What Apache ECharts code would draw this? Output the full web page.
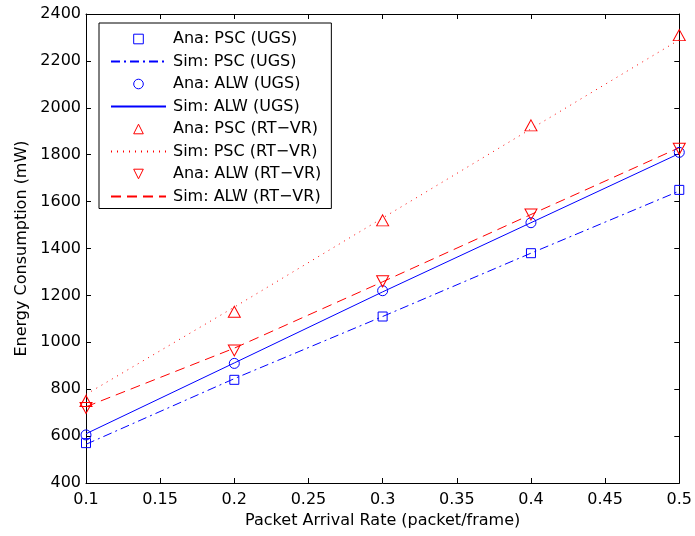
<!DOCTYPE html>
<html>
<head>
<meta charset="utf-8">
<script src="https://cdn.jsdelivr.net/npm/echarts@6/dist/echarts.min.js"></script>
<style>
  html, body { margin: 0; padding: 0; background: #fff; }
  #main { width: 695px; height: 536px; }
</style>
</head>
<body>
<div id="main"></div>
<script>
var myChart = echarts.init(document.getElementById('main'));

// packet arrival rates (x)
var rates = [0.1, 0.2, 0.3, 0.4, 0.5];
// energy consumption in mW
var anaPscUgs = [570, 840, 1110, 1380, 1650];
var simPscUgs = [565, 845, 1110, 1380, 1645];
var anaAlwUgs = [605, 910, 1220, 1510, 1810];
var simAlwUgs = [610, 912, 1215, 1510, 1805];
var anaPscRt = [750, 1130, 1520, 1925, 2310];
var simPscRt = [778, 1150, 1530, 1910, 2290];
var anaAlwRt = [720, 965, 1260, 1545, 1825];
var simAlwRt = [725, 975, 1258, 1545, 1830];

var BLUE = '#0000ff', RED = '#ff0000';
var FONT = 'DejaVu Sans';

function pairs(ys) {
    return rates.map(function (x, i) { return [x, ys[i]]; });
}

// marker-only series (analysis)
function markers(name, ys, color, symbol, size) {
    return {
        name: name,
        type: 'line',
        data: pairs(ys),
        symbol: symbol,
        symbolSize: size,
        showSymbol: true,
        lineStyle: { opacity: 0, width: 0 },
        itemStyle: { color: 'rgba(0,0,0,0)', borderColor: color, borderWidth: 1 },
        emphasis: { disabled: true },
        z: 3
    };
}

// line-only series (simulation)
function curve(name, ys, color, dash) {
    return {
        name: name,
        type: 'line',
        data: pairs(ys),
        symbol: 'none',
        lineStyle: { color: color, width: 1, type: dash },
        itemStyle: { color: color, opacity: 0 },
        emphasis: { disabled: true },
        z: 2
    };
}

var downTri = 'path://M0,0L10,0L5,9Z';

var option = {
    backgroundColor: '#fff',
    animation: false,
    textStyle: { fontFamily: FONT },
    grid: { left: 86, right: 13, top: 14, bottom: 53 },
    legend: {
        orient: 'vertical',
        left: 99,
        top: 23,
        padding: [8, 10, 4, 11],
        itemWidth: 55,
        itemHeight: 12,
        itemGap: 6.5,
        borderColor: '#000',
        borderWidth: 1,
        backgroundColor: '#fff',
        itemStyle: { borderWidth: 1 },
        textStyle: { fontFamily: FONT, fontSize: 16, lineHeight: 14, color: '#000', padding: [0, 0, 0, 2] },
        selectedMode: false
    },
    xAxis: [{
        type: 'value',
        min: 0.1, max: 0.5, interval: 0.05,
        name: 'Packet Arrival Rate (packet/frame)',
        nameLocation: 'middle',
        nameGap: 30,
        nameTextStyle: { fontFamily: FONT, fontSize: 16, color: '#000' },
        axisLine: { lineStyle: { color: '#000', width: 1 } },
        axisTick: { inside: true, length: 5, lineStyle: { color: '#000' } },
        axisLabel: { fontFamily: FONT, fontSize: 16, color: '#000', margin: 9 },
        splitLine: { show: false }
    }, {
        type: 'value', position: 'top',
        min: 0.1, max: 0.5, interval: 0.05,
        axisLine: { lineStyle: { color: '#000', width: 1 } },
        axisTick: { inside: true, length: 5, lineStyle: { color: '#000' } },
        axisLabel: { show: false },
        splitLine: { show: false }
    }],
    yAxis: [{
        type: 'value',
        min: 400, max: 2400, interval: 200,
        name: 'Energy Consumption (mW)',
        nameLocation: 'middle',
        nameGap: 54,
        nameTextStyle: { fontFamily: FONT, fontSize: 16, color: '#000' },
        axisLine: { show: true, lineStyle: { color: '#000', width: 1 } },
        axisTick: { show: true, inside: true, length: 5, lineStyle: { color: '#000' } },
        axisLabel: { fontFamily: FONT, fontSize: 16, color: '#000', margin: 5,
            formatter: function (v) { return String(v); } },
        splitLine: { show: false }
    }, {
        type: 'value', position: 'right',
        min: 400, max: 2400, interval: 200,
        axisLine: { show: true, lineStyle: { color: '#000', width: 1 } },
        axisTick: { show: true, inside: true, length: 5, lineStyle: { color: '#000' } },
        axisLabel: { show: false },
        splitLine: { show: false }
    }],
    series: [
        markers('Ana: PSC (UGS)', anaPscUgs, BLUE, 'rect', 9),
        curve('Sim: PSC (UGS)', simPscUgs, BLUE, [9, 4, 2, 4]),
        markers('Ana: ALW (UGS)', anaAlwUgs, BLUE, 'circle', 10),
        curve('Sim: ALW (UGS)', simAlwUgs, BLUE, 'solid'),
        markers('Ana: PSC (RT\u2212VR)', anaPscRt, RED, 'triangle', [12, 11]),
        curve('Sim: PSC (RT\u2212VR)', simPscRt, RED, [1, 5]),
        markers('Ana: ALW (RT\u2212VR)', anaAlwRt, RED, downTri, [12, 11]),
        curve('Sim: ALW (RT\u2212VR)', simAlwRt, RED, [10, 6])
    ]
};

myChart.setOption(option);
</script>
</body>
</html>
